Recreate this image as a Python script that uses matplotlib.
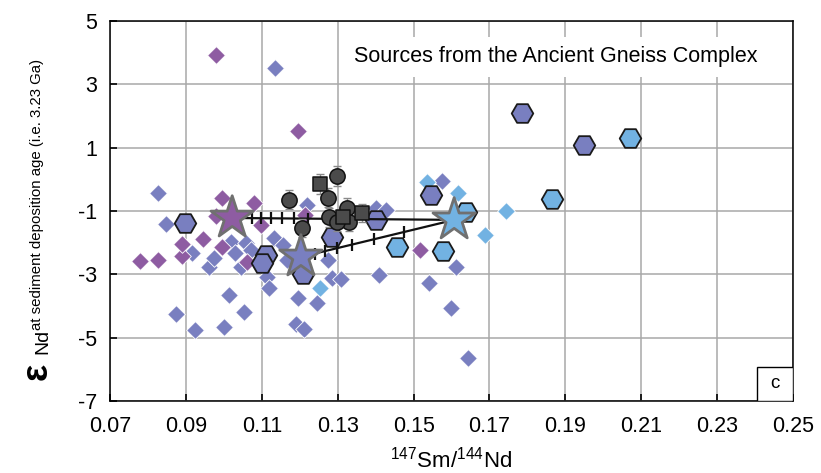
import matplotlib
matplotlib.use('Agg')
import matplotlib.pyplot as plt
from matplotlib import font_manager
from matplotlib.patches import Rectangle

# ---- data (147Sm/144Nd, eps Nd) ----
pur_dia_x = [0.0980, 0.1195, 0.0779, 0.0826, 0.0889, 0.0891, 0.0944, 0.0996,
             0.0980, 0.0996, 0.1080, 0.1098, 0.1062, 0.1214, 0.1517]
pur_dia_y = [3.94, 1.53, -2.58, -2.55, -2.42, -2.04, -1.88, -0.59,
             -1.16, -2.14, -0.74, -1.44, -2.61, -1.12, -2.23]

sla_dia_x = [0.1135, 0.0826, 0.0847, 0.0962, 0.0975, 0.1020, 0.1030, 0.1046,
             0.1059, 0.1072, 0.1132, 0.1114, 0.1119, 0.1014, 0.0873, 0.0925,
             0.1001, 0.1054, 0.1195, 0.1245, 0.1190, 0.1211, 0.1156, 0.1166,
             0.1219, 0.1274, 0.1284, 0.1310, 0.1402, 0.1428, 0.1410, 0.1541,
             0.1612, 0.1599, 0.1643, 0.1575, 0.0917]
sla_dia_y = [3.53, -0.43, -1.41, -2.77, -2.49, -1.98, -2.33, -2.77,
             -2.01, -2.23, -1.85, -3.09, -3.43, -3.66, -4.26, -4.76,
             -4.67, -4.19, -3.75, -3.91, -4.57, -4.73, -2.07, -2.55,
             -0.81, -2.55, -3.12, -3.15, -0.90, -0.97, -3.02, -3.28,
             -2.77, -4.07, -5.65, -0.05, -2.33]

lb_dia_x = [0.1536, 0.1617, 0.1688, 0.1743, 0.1253]
lb_dia_y = [-0.08, -0.43, -1.76, -1.00, -3.43]

sla_hex_x = [0.0897, 0.1111, 0.1101, 0.1208, 0.1284, 0.1402, 0.1546, 0.1785, 0.1950]
sla_hex_y = [-1.38, -2.39, -2.64, -2.98, -1.82, -1.28, -0.49, 2.10, 1.09]

lb_hex_x = [0.1457, 0.1578, 0.1638, 0.1866, 0.2070]
lb_hex_y = [-2.14, -2.26, -1.03, -0.62, 1.31]

# end-member stars: purple, slate, light blue
star_x = [0.1022, 0.1203, 0.1607]
star_y = [-1.22, -2.45, -1.28]

circ_x = [0.1172, 0.1297, 0.1274, 0.1276, 0.1206, 0.1324, 0.1331, 0.1297]
circ_y = [-0.65, 0.11, -0.58, -1.19, -1.54, -0.90, -1.35, -1.35]
circ_err = [0.30, 0.32, 0.30, 0.30, 0.28, 0.30, 0.28, 0.28]

sq_x = [0.1253, 0.1313, 0.1365]
sq_y = [-0.14, -1.19, -1.06]
sq_err = [0.32, 0.30, 0.28]

# mixing-line tick marks
mixA_x = [0.1075, 0.1098, 0.1124, 0.1153, 0.1185, 0.1222]
mixA_y = [-1.22, -1.22, -1.23, -1.23, -1.23, -1.24]
mixB_x = [0.1224, 0.1240, 0.1266, 0.1297, 0.1337, 0.1397, 0.1476]
mixB_y = [-2.39, -2.35, -2.27, -2.18, -2.06, -1.89, -1.66]

x_ticks = [0.07, 0.09, 0.11, 0.13, 0.15, 0.17, 0.19, 0.21, 0.23, 0.25]
y_ticks = [5, 3, 1, -1, -3, -5, -7]

PURPLE = '#8E5CA2'
SLATE = '#797FC0'
LBLUE = '#72B2E2'
DARK = '#4B4B4B'


def pick_font():
    for fam in ['Liberation Sans Narrow', 'Arial Narrow']:
        try:
            font_manager.findfont(font_manager.FontProperties(family=fam),
                                  fallback_to_default=False)
            return fam, True
        except ValueError:
            pass
    return 'Liberation Sans', False


FONT, NARROW = pick_font()
plt.rcParams['font.family'] = [FONT, 'DejaVu Sans']
plt.rcParams['mathtext.fontset'] = 'custom'
plt.rcParams['mathtext.rm'] = FONT
TS = 18 if NARROW else 15.5

fig = plt.figure(figsize=(8.21, 4.73), dpi=100)
ax = fig.add_axes([0.134, 0.1522, 0.8319, 0.8034])

ax.set_xlim(0.07, 0.25)
ax.set_ylim(-7, 5)
ax.set_xticks(x_ticks)
ax.set_yticks(y_ticks)
ax.set_xticklabels([f'{v:.2f}' for v in x_ticks])
ax.set_yticklabels([str(v) for v in y_ticks])
ax.grid(True, color='#a8a8a8', lw=1.1)
ax.set_axisbelow(True)
ax.tick_params(direction='in', length=5, width=1.2, labelsize=TS,
               top=False, right=False)
ax.tick_params(axis='x', pad=11)
ax.tick_params(axis='y', pad=9)
for s in ax.spines.values():
    s.set_color('black')
    s.set_linewidth(1.1)

ms_d = 9.0
ax.scatter(sla_dia_x, sla_dia_y, s=ms_d**2, marker='D', c=SLATE,
           edgecolors='white', linewidths=0.6, zorder=2)
ax.scatter(pur_dia_x, pur_dia_y, s=ms_d**2, marker='D', c=PURPLE,
           edgecolors='white', linewidths=0.6, zorder=2)
ax.scatter(lb_dia_x, lb_dia_y, s=ms_d**2, marker='D', c=LBLUE,
           edgecolors='white', linewidths=0.6, zorder=2)

ms_h = 15.5
ax.scatter(sla_hex_x, sla_hex_y, s=ms_h**2, marker='H', c=SLATE,
           edgecolors='#1a1a1a', linewidths=1.3, zorder=3)
ax.scatter(lb_hex_x, lb_hex_y, s=ms_h**2, marker='H', c=LBLUE,
           edgecolors='#1a1a1a', linewidths=1.3, zorder=3)

# mixing lines between end members
ax.plot([star_x[0], star_x[2]], [star_y[0], star_y[2]], color='#111111',
        lw=1.6, zorder=4)
ax.plot([star_x[1], star_x[2]], [star_y[1], star_y[2]], color='#111111',
        lw=1.6, zorder=4)
ax.plot(mixA_x, mixA_y, ls='none', marker='|', ms=9, mew=1.6,
        color='#111111', zorder=4)
ax.plot(mixB_x, mixB_y, ls='none', marker='|', ms=9, mew=1.6,
        color='#111111', zorder=4)

ax.errorbar(circ_x, circ_y, yerr=circ_err, fmt='none', ecolor='#8a8a8a',
            elinewidth=1.0, capsize=3, capthick=1.0, zorder=5)
ax.errorbar(sq_x, sq_y, yerr=sq_err, fmt='none', ecolor='#8a8a8a',
            elinewidth=1.0, capsize=3, capthick=1.0, zorder=5)
ax.scatter(circ_x, circ_y, s=11**2, marker='o', c=DARK, edgecolors='#111111',
           linewidths=1.1, zorder=6)
ax.scatter(sq_x, sq_y, s=10.5**2, marker='s', c=DARK, edgecolors='#111111',
           linewidths=1.1, zorder=6)

ax.scatter(star_x, star_y, s=32**2, marker='*', c=[PURPLE, SLATE, LBLUE],
           edgecolors='#707070', linewidths=2.0, zorder=7)

ax.text(0.652, 0.906, 'Sources from the Ancient Gneiss Complex',
        transform=ax.transAxes, ha='center', va='center', fontsize=TS,
        bbox=dict(fc='white', ec='none', pad=7), zorder=8)

ax.add_patch(Rectangle((0.9476, 0.0), 0.0524, 0.0896, transform=ax.transAxes,
                       fc='white', ec='black', lw=1.0, zorder=8))
ax.text(0.9738, 0.045, 'c', transform=ax.transAxes, ha='center',
        va='center', fontsize=TS - 2, zorder=9)

ax.set_xlabel(r'$^{147}$Sm/$^{144}$Nd', fontsize=TS + 0.5, labelpad=7)

# y label: big epsilon, "Nd" subscript, then the qualifier text
fig.text(47 / 821, 1 - 380 / 473, 'ε', rotation=90, rotation_mode='anchor',
         ha='left', va='baseline', fontsize=26, fontweight='bold')
fig.text(47 / 821, 1 - 354 / 473, 'Nd', rotation=90, rotation_mode='anchor',
         ha='left', va='baseline', fontsize=14)
fig.text(41 / 821, 1 - 330 / 473, 'at sediment deposition age (i.e. 3.23 Ga)',
         rotation=90, rotation_mode='anchor', ha='left', va='baseline',
         fontsize=10.8)

fig.savefig('out.png', dpi=100)
